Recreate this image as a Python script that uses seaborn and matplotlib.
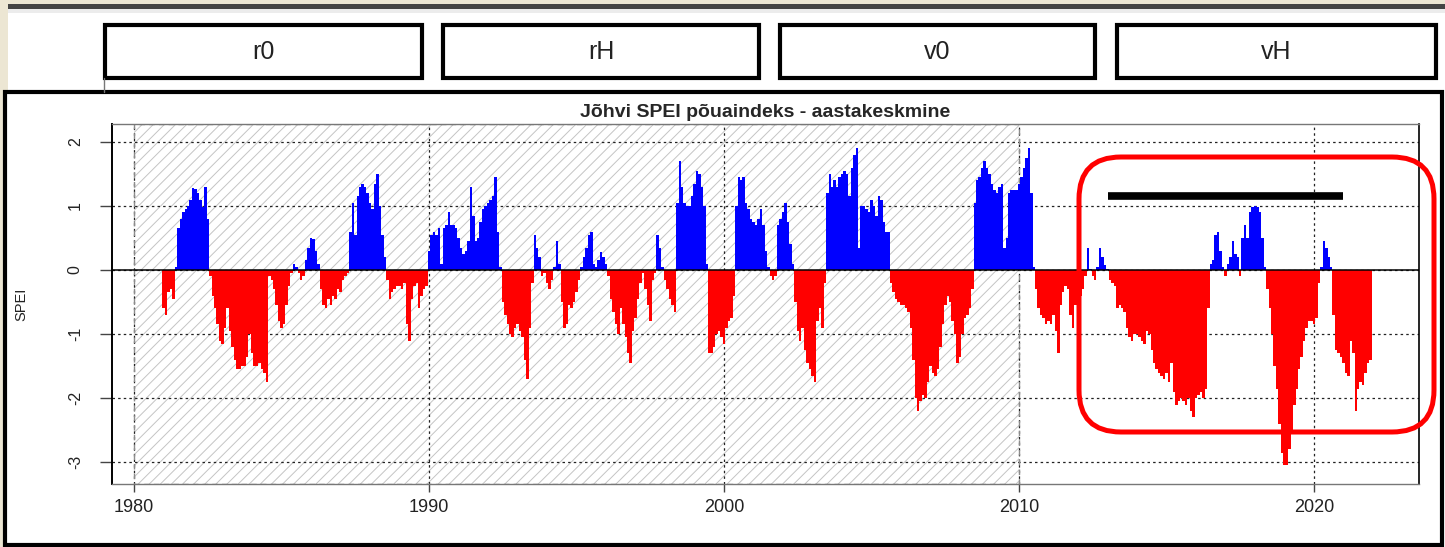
import numpy as np
import pandas as pd
import matplotlib
matplotlib.use("Agg")
import matplotlib.pyplot as plt
from matplotlib.patches import Rectangle, FancyBboxPatch
from matplotlib.lines import Line2D
import seaborn as sns

# monthly SPEI (12-month), Jan 1981 .. Dec 2021
spei_1980s = [
    -0.6, -0.7, -0.35, -0.3, -0.45, 0.05, 0.65, 0.8, 0.9, 0.95, 1.0, 1.1,        # 1981
    1.28, 1.27, 1.2, 1.1, 0.98, 1.3, 0.8, -0.1, -0.4, -0.6, -0.85, -1.1,         # 1982
    -1.15, -0.9, -0.6, -0.95, -1.2, -1.4, -1.55, -1.55, -1.5, -1.5, -1.35, -1.0, # 1983
    -1.3, -1.5, -1.5, -1.45, -1.55, -1.6, -1.75, -0.1, -0.15, -0.3, -0.55, -0.8, # 1984
    -0.9, -0.85, -0.55, -0.25, -0.05, 0.1, 0.05, -0.05, -0.15, -0.1, 0.15, 0.35, # 1985
    0.5, 0.48, 0.3, 0.1, -0.3, -0.55, -0.6, -0.45, -0.55, -0.4, -0.45, -0.3,     # 1986
    -0.35, -0.15, -0.1, -0.05, 0.6, 1.05, 0.55, 1.15, 1.3, 1.35, 1.3, 1.2,       # 1987
    1.05, 0.95, 1.35, 1.5, 1.0, 0.55, 0.2, -0.15, -0.45, -0.35, -0.3, -0.25,     # 1988
    -0.25, -0.3, -0.2, -0.85, -1.1, -0.45, -0.25, -0.2, -0.6, -0.4, -0.3, -0.25, # 1989
]
spei_1990s = [
    0.3, 0.55, 0.6, 0.55, 0.65, 0.1, 0.65, 0.7, 0.9, 0.7, 0.7, 0.65,             # 1990
    0.5, 0.35, 0.25, 0.3, 0.45, 1.3, 0.85, 0.45, 0.5, 0.75, 0.95, 1.0,           # 1991
    1.05, 1.1, 1.15, 1.45, 0.6, 0.05, -0.5, -0.7, -0.85, -1.0, -1.05, -0.9,      # 1992
    -0.85, -0.95, -1.05, -1.4, -1.7, -0.9, -0.2, 0.55, 0.35, 0.2, -0.1, -0.05,   # 1993
    -0.2, -0.3, -0.15, 0.05, 0.45, 0.1, -0.5, -0.9, -0.85, -0.55, -0.6, -0.5,    # 1994
    -0.35, -0.15, 0.05, 0.2, 0.35, 0.55, 0.6, 0.1, 0.05, 0.15, 0.28, 0.2,        # 1995
    0.1, -0.1, -0.45, -0.65, -0.85, -1.0, -0.6, -0.85, -1.05, -1.3, -1.45, -0.95,  # 1996
    -0.75, -0.45, -0.2, -0.05, -0.3, -0.55, -0.8, -0.15, -0.05, 0.55, 0.35, 0.05,  # 1997
    -0.15, -0.3, -0.45, -0.55, -0.65, 1.05, 1.7, 1.3, 1.05, 1.0, 1.0, 1.15,      # 1998
    1.35, 1.55, 1.5, 1.3, 1.0, 0.1, -1.3, -1.3, -1.2, -1.0, -0.95, -1.05,        # 1999
]
spei_2000s = [
    -1.15, -0.9, -0.8, -0.75, -0.4, 1.0, 1.45, 1.4, 1.45, 1.05, 0.95, 0.8,       # 2000
    0.75, 0.7, 0.8, 0.95, 0.7, 0.3, 0.05, -0.1, -0.15, -0.1, 0.7, 0.8,           # 2001
    0.9, 1.05, 0.75, 0.4, 0.1, -0.5, -0.95, -1.1, -0.9, -1.25, -1.45, -1.55,     # 2002
    -1.65, -1.75, -0.8, -0.6, -0.9, -0.2, 1.2, 1.5, 1.3, 1.4, 1.3, 1.45,         # 2003
    1.5, 1.55, 1.5, 1.15, 1.6, 1.8, 1.9, 0.35, 1.0, 1.0, 0.95, 0.9,              # 2004
    1.1, 1.0, 0.85, 1.15, 1.1, 0.75, 0.6, 0.6, -0.2, -0.35, -0.45, -0.5,         # 2005
    -0.55, -0.55, -0.6, -0.65, -0.9, -1.4, -2.0, -2.2, -2.05, -1.95, -2.0, -1.75,  # 2006
    -1.5, -1.6, -1.65, -1.55, -1.2, -0.85, -0.55, -0.4, -0.5, -0.8, -1.0, -1.45,   # 2007
    -1.35, -1.0, -0.75, -0.7, -0.6, -0.3, 1.05, 1.4, 1.45, 1.6, 1.7, 1.6,        # 2008
    1.5, 1.35, 1.25, 1.2, 1.3, 1.35, 0.35, 0.5, 1.2, 1.25, 1.25, 1.25,           # 2009
]
spei_2010s = [
    1.35, 1.45, 1.6, 1.75, 1.9, 1.2, 0.05, -0.3, -0.6, -0.7, -0.75, -0.85,       # 2010
    -0.8, -0.85, -0.7, -0.95, -1.3, -0.55, -0.35, -0.25, -0.3, -0.7, -0.9, -0.55,  # 2011
    -0.45, -0.4, -0.3, -0.1, 0.35, 0.02, -0.1, -0.15, 0.05, 0.35, 0.2, 0.08,     # 2012
    0.02, -0.15, -0.2, -0.25, -0.6, -0.55, -0.6, -0.65, -0.9, -1.05, -1.1, -1.0,   # 2013
    -1.0, -1.05, -1.1, -1.15, -0.95, -1.0, -1.25, -1.45, -1.55, -1.6, -1.65, -1.7, # 2014
    -1.6, -1.75, -1.45, -1.9, -2.1, -2.05, -2.0, -2.05, -2.1, -2.0, -2.2, -2.3,  # 2015
    -2.0, -1.95, -1.9, -2.0, -1.85, -0.6, 0.1, 0.15, 0.55, 0.6, 0.3, 0.05,       # 2016
    -0.1, 0.1, 0.2, 0.45, 0.25, 0.2, -0.1, 0.5, 0.7, 0.5, 0.9, 0.98,             # 2017
    1.0, 0.98, 0.9, 0.5, 0.05, -0.3, -0.6, -1.0, -1.5, -1.85, -2.4, -2.85,       # 2018
    -3.05, -3.05, -2.8, -2.5, -2.1, -1.85, -1.55, -1.35, -1.1, -0.9, -0.8, -0.8, # 2019
]
spei_2020s = [
    -0.85, -0.75, -0.2, 0.05, 0.45, 0.35, 0.2, 0.05, -0.7, -1.25, -1.3, -1.35,   # 2020
    -1.45, -1.6, -1.65, -1.1, -1.3, -2.2, -1.85, -1.75, -1.8, -1.6, -1.45, -1.4, # 2021
]

start_year = 1981
ref_period = [1980, 2010]
x_ticks = [1980, 1990, 2000, 2010, 2020]
y_ticks = [-3, -2, -1, 0, 1, 2]
panel_labels = ["r0", "rH", "v0", "vH"]
highlight_years = [2013, 2021]
highlight_level = 1.15
title = "Jõhvi SPEI põuaindeks - aastakeskmine"

values = np.array(spei_1980s + spei_1990s + spei_2000s + spei_2010s + spei_2020s)
dates = start_year + np.arange(len(values)) / 12
df = pd.DataFrame({"date": dates, "spei": values,
                   "sign": np.where(values >= 0, "pos", "neg")})

sns.set_theme(style="white")
plt.rcParams["font.family"] = ["Liberation Sans", "DejaVu Sans"]
plt.rcParams["axes.unicode_minus"] = False
plt.rcParams["hatch.linewidth"] = 0.7

W, H = 1445, 547
fig = plt.figure(figsize=(W / 100, H / 100), dpi=100, facecolor="white")
ax = fig.add_axes([112 / W, 1 - 484 / H, (1419 - 112) / W, (484 - 124) / H])

ylo, yhi = -3.34, 2.28
xlo, xhi = 1979.25, 2023.56

# reference period shading
ax.add_patch(Rectangle((ref_period[0], ylo), ref_period[1] - ref_period[0], yhi - ylo,
                       facecolor="none", edgecolor="#c4c4c4", hatch="///", lw=0, zorder=0))
ax.add_patch(Rectangle((ref_period[0], ylo), ref_period[1] - ref_period[0], yhi - ylo,
                       facecolor="none", edgecolor="#8c8c8c", ls=(0, (4, 3)), lw=1.0, zorder=1))

sns.barplot(data=df, x="date", y="spei", hue="sign",
            palette={"pos": "#0000ff", "neg": "#ff0000"},
            native_scale=True, dodge=False, width=1.0, saturation=1,
            errorbar=None, legend=False, linewidth=0, antialiased=False,
            ax=ax, zorder=3)

ax.axhline(0, color="black", lw=1.1, zorder=4)
sns.lineplot(x=highlight_years, y=[highlight_level] * 2, color="black", lw=5.5,
             solid_capstyle="butt", ax=ax, zorder=6)

ax.set_xlim(xlo, xhi)
ax.set_ylim(ylo, yhi)
ax.set_xticks(x_ticks)
ax.set_yticks(y_ticks)
ax.set_yticklabels([str(v) for v in y_ticks])
ax.set_axisbelow(True)
ax.grid(True, ls=(0, (2, 2.5)), color="#222222", lw=0.9)
ax.tick_params(axis="x", bottom=True, length=6, width=1, color="#444444",
               labelsize=13, pad=5, labelcolor="#222222")
ax.tick_params(axis="y", left=True, length=9, width=1, color="#444444",
               labelsize=11.5, pad=12, labelrotation=90, labelcolor="#222222")
for lbl in ax.get_yticklabels():
    lbl.set_va("center")
ax.set_xlabel("")
ax.set_ylabel("SPEI", fontsize=10.5, color="#222222")
ax.yaxis.set_label_coords(-0.064, 0.5)
ax.set_title(title, fontsize=14, fontweight="bold", pad=5)

ax.spines["left"].set_color("black")
ax.spines["left"].set_linewidth(1.4)
ax.spines["bottom"].set_color("#777777")
ax.spines["bottom"].set_linewidth(1.0)
ax.spines["top"].set_color("#777777")
ax.spines["top"].set_linewidth(1.0)
ax.spines["right"].set_color("black")
ax.spines["right"].set_linewidth(1.2)


def px_box(x0, y0, x1, y1, **kw):
    # rectangle given in screen pixels (origin top-left)
    return Rectangle((x0 / 100, (H - y1) / 100), (x1 - x0) / 100, (y1 - y0) / 100,
                     transform=fig.dpi_scale_trans, **kw)


# screenshot decorations around the chart
fig.add_artist(px_box(0, 0, W, 4, facecolor="#ece6d3", lw=0))
fig.add_artist(px_box(0, 0, 8, 90, facecolor="#ece6d3", lw=0))
fig.add_artist(px_box(0, 0, 3, H, facecolor="#ece6d3", lw=0))
fig.add_artist(px_box(8, 4, W, 9, facecolor="#444444", lw=0))
fig.add_artist(px_box(8, 9, W, 13, facecolor="#ececec", lw=0))

box_x = [(105, 422), (443, 759), (780, 1095), (1117, 1436)]
for (bx0, bx1), lab in zip(box_x, panel_labels):
    fig.add_artist(px_box(bx0, 25, bx1, 78, facecolor="white", edgecolor="black", lw=3))
    fig.text((bx0 + bx1) / 2 / W, 1 - 52 / H, lab, ha="center", va="center",
             fontsize=18, color="#222222")
fig.add_artist(Line2D([104 / 100, 104 / 100], [(H - 78) / 100, (H - 92) / 100],
                      transform=fig.dpi_scale_trans, color="#777777", lw=1))

fig.add_artist(px_box(5, 92, 1442, 545, facecolor="none", edgecolor="black", lw=3))

fig.add_artist(FancyBboxPatch((1079 / 100, (H - 432) / 100), 355 / 100, 275 / 100,
                              boxstyle="round,pad=0,rounding_size=0.42",
                              transform=fig.dpi_scale_trans,
                              facecolor="none", edgecolor="#ff0000", lw=3.6))

fig.savefig("out.png", dpi=100, facecolor="white")
